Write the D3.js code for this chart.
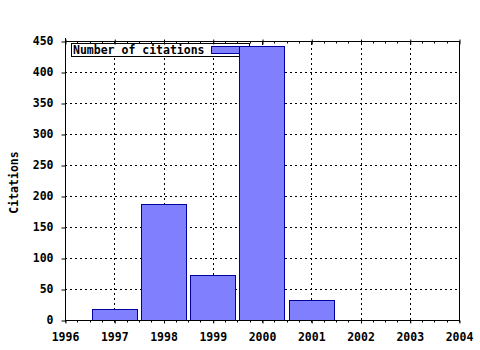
<!DOCTYPE html>
<html>
<head>
<meta charset="utf-8">
<script src="https://cdn.jsdelivr.net/npm/d3@7"></script>
<style>
  body { margin: 0; background: #fff; }
  text { font-family: "DejaVu Sans Mono", monospace; font-weight: bold; font-size: 11.5px; }
</style>
</head>
<body>
<svg id="chart"></svg>
<script>
const years = [1997, 1998, 1999, 2000, 2001];
const citations = [17, 187, 73, 442, 33];
const xTicks = [1996, 1997, 1998, 1999, 2000, 2001, 2002, 2003, 2004];
const yTicks = [0, 50, 100, 150, 200, 250, 300, 350, 400, 450];
const seriesName = "Number of citations";

const width = 480, height = 350;
const margin = {top: 41, right: 21, bottom: 30, left: 65};

const svg = d3.select("#chart")
    .attr("width", width)
    .attr("height", height);

const x = d3.scaleLinear().domain([1996, 2004]).range([margin.left, width - margin.right]);
const y = d3.scaleLinear().domain([0, 450]).range([height - margin.bottom, margin.top]);
const px = v => Math.round(v) + 0.5;

// grid
svg.append("g")
    .selectAll("line")
    .data(xTicks.slice(1, -1))
    .enter().append("line")
    .attr("x1", d => px(x(d))).attr("x2", d => px(x(d)))
    .attr("y1", y(0)).attr("y2", y(450))
    .attr("stroke", "#000").attr("stroke-dasharray", "2,3");
svg.append("g")
    .selectAll("line")
    .data(yTicks.slice(1, -1))
    .enter().append("line")
    .attr("y1", d => px(y(d))).attr("y2", d => px(y(d)))
    .attr("x1", x(1996)).attr("x2", x(2004))
    .attr("stroke", "#000").attr("stroke-dasharray", "2,3");

// legend (bars are drawn over it)
const lg = svg.append("g");
lg.append("rect").attr("x", 71.5).attr("y", 43.5).attr("width", 178).attr("height", 13)
    .attr("fill", "#fff").attr("stroke", "#000");
lg.append("rect").attr("x", 211.5).attr("y", 46.5).attr("width", 36).attr("height", 7)
    .attr("fill", "#8080ff").attr("stroke", "#0000a0");
lg.append("text").attr("x", 73).attr("y", 54).text(seriesName);

// bars
const bw = (x(1997) - x(1996)) * 0.92;
svg.append("g")
    .selectAll("rect")
    .data(years.map((d, i) => ({year: d, value: citations[i]})))
    .enter().append("rect")
    .attr("x", d => px(x(d.year) - bw / 2))
    .attr("width", Math.round(bw))
    .attr("y", d => px(y(d.value)))
    .attr("height", d => Math.round(y(0)) - Math.round(y(d.value)))
    .attr("fill", "#8080ff")
    .attr("stroke", "#0000a0");

// right frame
svg.append("line").attr("x1", px(x(2004))).attr("x2", px(x(2004)))
    .attr("y1", y(0)).attr("y2", y(450)).attr("stroke", "#000");

const minor = d3.range(1996, 2004.01, 0.25);

// bottom axis: ticks outward
const xAxis = svg.append("g")
    .attr("transform", `translate(0,${px(y(0))})`)
    .call(d3.axisBottom(x).tickValues(xTicks).tickFormat(d3.format("d")).tickSize(3).tickPadding(9));
xAxis.select(".domain").attr("d", `M${x(1996)},0H${x(2004) + 1}`);
xAxis.selectAll(".tick line").attr("x1", 0.5).attr("x2", 0.5);
xAxis.append("g").selectAll("line").data(minor).enter().append("line")
    .attr("x1", d => px(x(d))).attr("x2", d => px(x(d)))
    .attr("y1", 0).attr("y2", 2).attr("stroke", "#000");

// top frame: major ticks cross, minor ticks inward
const xTop = svg.append("g")
    .attr("transform", `translate(0,${px(y(450))})`)
    .call(d3.axisTop(x).tickValues(xTicks).tickFormat("").tickSize(3));
xTop.select(".domain").attr("d", `M${x(1996)},0H${x(2004) + 1}`);
xTop.selectAll(".tick line").attr("x1", 0.5).attr("x2", 0.5).attr("y2", -2).attr("y1", 3);
xTop.append("g").selectAll("line").data(minor).enter().append("line")
    .attr("x1", d => px(x(d))).attr("x2", d => px(x(d)))
    .attr("y1", 0).attr("y2", 2).attr("stroke", "#000");

// left axis: ticks outward
const yAxis = svg.append("g")
    .attr("transform", `translate(${px(x(1996))},0)`)
    .call(d3.axisLeft(y).tickValues(yTicks).tickSize(4).tickPadding(8));
yAxis.select(".domain").attr("d", `M0,${y(0)}V${y(450) - 3}`);
yAxis.selectAll(".tick line").attr("y1", 0.5).attr("y2", 0.5);

svg.selectAll("g.tick text").attr("fill", "#000");

svg.append("text")
    .attr("transform", `translate(18,${(y(0) + y(450)) / 2 + 2}) rotate(-90)`)
    .attr("text-anchor", "middle")
    .text("Citations");
</script>
</body>
</html>
